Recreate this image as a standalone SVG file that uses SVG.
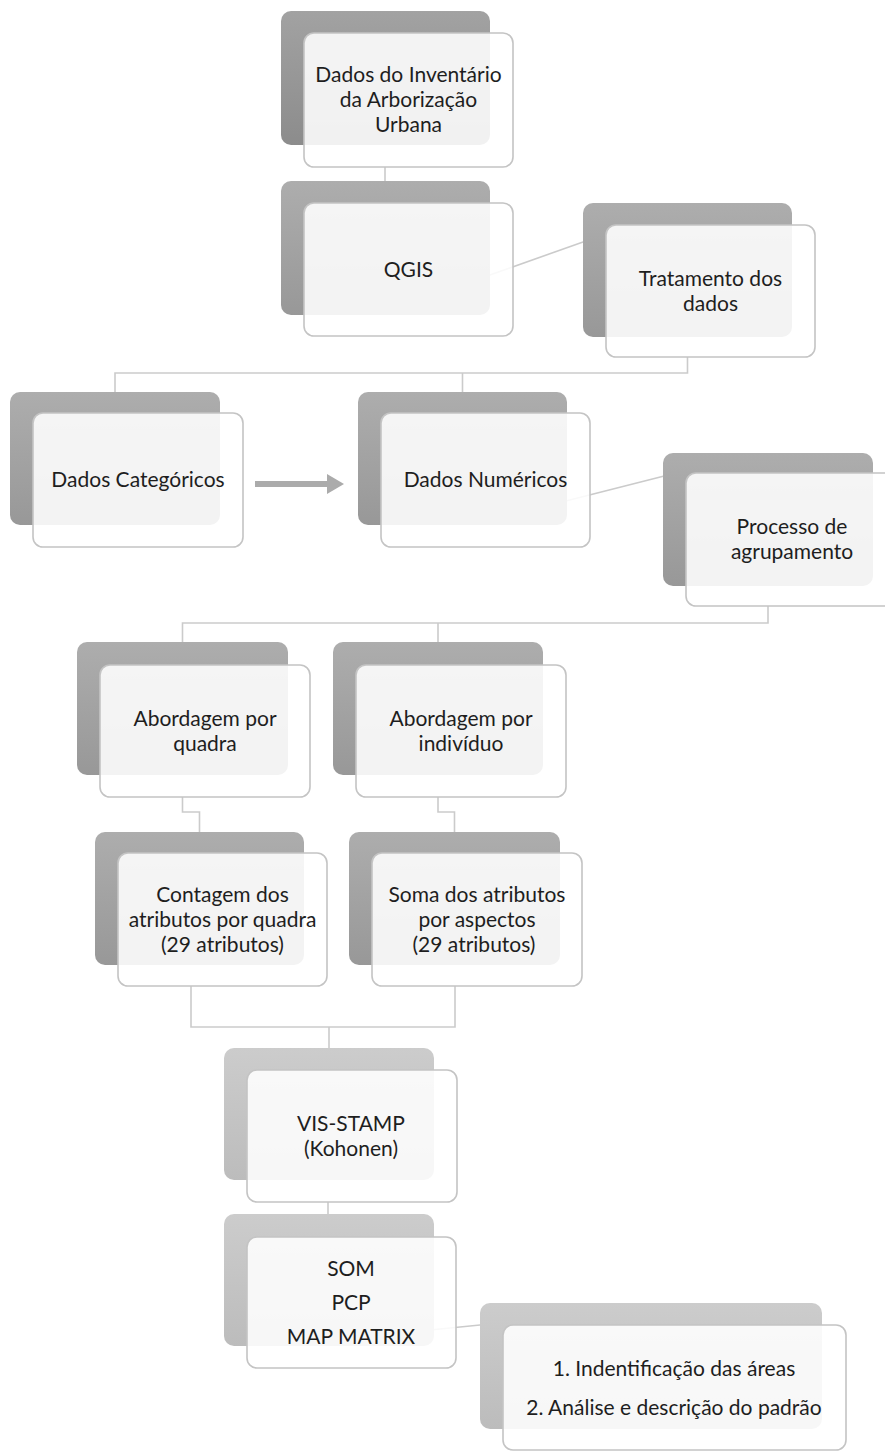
<svg xmlns="http://www.w3.org/2000/svg" width="885" height="1451" viewBox="0 0 885 1451">
  <defs>
    <linearGradient id="gDark" x1="0" y1="0" x2="0" y2="1">
      <stop offset="0" stop-color="#a2a2a2"/>
      <stop offset="1" stop-color="#8c8c8c"/>
    </linearGradient>
    <linearGradient id="gMid" x1="0" y1="0" x2="0" y2="1">
      <stop offset="0" stop-color="#adadad"/>
      <stop offset="1" stop-color="#989898"/>
    </linearGradient>
    <linearGradient id="gLight" x1="0" y1="0" x2="0" y2="1">
      <stop offset="0" stop-color="#cccccc"/>
      <stop offset="1" stop-color="#bcbcbc"/>
    </linearGradient>
  </defs>
  <style>
    .back { stroke: none; }
    .b1 { fill: url(#gDark); }
    .b2 { fill: url(#gMid); }
    .b3 { fill: url(#gLight); }
    .front { fill: #ffffff; fill-opacity: 0.88; stroke: #c4c4c4; stroke-width: 1.6; }
    .conn { fill: none; stroke: #cbcbcb; stroke-width: 1.6; }
    .lbl { font-family: Lato, "Liberation Sans", sans-serif; font-size: 21px; fill: #1e1e1e; text-anchor: middle; }
    .arrow { fill: #ababab; }
  </style>
  <rect width="885" height="1451" fill="#ffffff"/>

  <g id="connectors">
    <path class="conn" d="M385,167 V181"/>
    <path class="conn" d="M470,282 L600,236"/>
    <path class="conn" d="M687.5,357 V373 H115 V392 M462.5,373 V392"/>
    <path class="conn" d="M550,505 L680,472"/>
    <path class="conn" d="M768,606 V623 H182.5 V642 M438,623 V642"/>
    <path class="conn" d="M182.5,797 V812 H199.5 V832"/>
    <path class="conn" d="M438,797 V812 H454.5 V832"/>
    <path class="conn" d="M191,986 V1027 H455 V986 M329,1027 V1048"/>
    <path class="conn" d="M328,1202 V1214"/>
    <path class="conn" d="M420,1331 L500,1323"/>
    <g id="arrow-cat-num">
      <rect class="arrow" x="255" y="481" width="73" height="6"/>
      <polygon class="arrow" points="327,474 344,484 327,494"/>
    </g>
  </g>

  <g id="n-inventario">
    <rect class="back b1" x="281" y="11" width="209" height="134" rx="10"/>
    <rect class="front" x="304" y="33" width="209" height="134" rx="10"/>
    <text class="lbl" x="408.5" y="82">Dados do Inventário</text>
    <text class="lbl" x="408.5" y="107">da Arborização</text>
    <text class="lbl" x="408.5" y="132">Urbana</text>
  </g>

  <g id="n-qgis">
    <rect class="back b2" x="281" y="181" width="209" height="134" rx="10"/>
    <rect class="front" x="304" y="203" width="209" height="133" rx="10"/>
    <text class="lbl" x="408.5" y="277">QGIS</text>
  </g>

  <g id="n-tratamento">
    <rect class="back b2" x="583" y="203" width="209" height="134" rx="10"/>
    <rect class="front" x="606" y="225" width="209" height="132" rx="10"/>
    <text class="lbl" x="710.5" y="286">Tratamento dos</text>
    <text class="lbl" x="710.5" y="311">dados</text>
  </g>

  <g id="n-categoricos">
    <rect class="back b2" x="10" y="392" width="210" height="133" rx="10"/>
    <rect class="front" x="33" y="413" width="210" height="134" rx="10"/>
    <text class="lbl" x="138" y="487">Dados Categóricos</text>
  </g>

  <g id="n-numericos">
    <rect class="back b2" x="358" y="392" width="209" height="133" rx="10"/>
    <rect class="front" x="381" y="413" width="209" height="134" rx="10"/>
    <text class="lbl" x="485.5" y="487">Dados Numéricos</text>
  </g>

  <g id="n-processo">
    <rect class="back b2" x="663" y="453" width="210" height="133" rx="10"/>
    <rect class="front" x="686" y="473" width="210" height="133" rx="10"/>
    <text class="lbl" x="792" y="534">Processo de</text>
    <text class="lbl" x="792" y="559">agrupamento</text>
  </g>

  <g id="n-abordagem-quadra">
    <rect class="back b2" x="77" y="642" width="211" height="133" rx="10"/>
    <rect class="front" x="100" y="665" width="210" height="132" rx="10"/>
    <text class="lbl" x="205" y="726">Abordagem por</text>
    <text class="lbl" x="205" y="751">quadra</text>
  </g>

  <g id="n-abordagem-individuo">
    <rect class="back b2" x="333" y="642" width="210" height="133" rx="10"/>
    <rect class="front" x="356" y="665" width="210" height="132" rx="10"/>
    <text class="lbl" x="461" y="726">Abordagem por</text>
    <text class="lbl" x="461" y="751">indivíduo</text>
  </g>

  <g id="n-contagem">
    <rect class="back b2" x="95" y="832" width="209" height="133" rx="10"/>
    <rect class="front" x="118" y="853" width="209" height="133" rx="10"/>
    <text class="lbl" x="222.5" y="902">Contagem dos</text>
    <text class="lbl" x="222.5" y="927">atributos por quadra</text>
    <text class="lbl" x="222.5" y="952">(29 atributos)</text>
  </g>

  <g id="n-soma">
    <rect class="back b2" x="349" y="832" width="211" height="133" rx="10"/>
    <rect class="front" x="372" y="853" width="210" height="133" rx="10"/>
    <text class="lbl" x="477" y="902">Soma dos atributos</text>
    <text class="lbl" x="477" y="927">por aspectos</text>
    <text class="lbl" x="474" y="952">(29 atributos)</text>
  </g>

  <g id="n-visstamp">
    <rect class="back b3" x="224" y="1048" width="210" height="132" rx="10"/>
    <rect class="front" x="247" y="1070" width="210" height="132" rx="10"/>
    <text class="lbl" x="351" y="1131">VIS-STAMP</text>
    <text class="lbl" x="351" y="1156">(Kohonen)</text>
  </g>

  <g id="n-som">
    <rect class="back b3" x="224" y="1214" width="210" height="132" rx="10"/>
    <rect class="front" x="247" y="1237" width="209" height="131" rx="10"/>
    <text class="lbl" x="351" y="1276">SOM</text>
    <text class="lbl" x="351" y="1310">PCP</text>
    <text class="lbl" x="351" y="1344">MAP MATRIX</text>
  </g>

  <g id="n-final">
    <rect class="back b3" x="480" y="1303" width="342" height="126" rx="10"/>
    <rect class="front" x="503" y="1325" width="343" height="125" rx="10"/>
    <text class="lbl" x="674" y="1376">1. Indentificação das áreas</text>
    <text class="lbl" x="674" y="1415">2. Análise e descrição do padrão</text>
  </g>
</svg>
